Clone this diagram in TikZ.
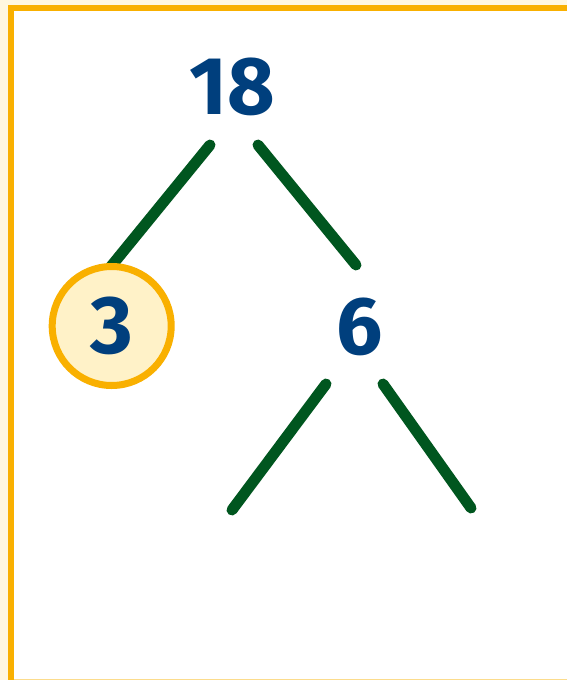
\documentclass[tikz,border=0pt]{standalone}
\usepackage{fontspec}
\setmainfont{Fira Sans}
\usetikzlibrary{backgrounds}
\definecolor{numblue}{HTML}{003F7D}
\definecolor{branchgreen}{HTML}{00561F}
\definecolor{frameorange}{HTML}{F9B000}
\definecolor{cream}{HTML}{FFF2C8}
\definecolor{paper}{HTML}{FFF7DF}
\tikzset{
	num/.style={inner sep=0pt, text=numblue, font=\fontsize{82}{90}\selectfont\bfseries},
	marked/.style={circle, draw=frameorange, line width=7pt, fill=cream, minimum size=119pt},
	branch/.style={draw=branchgreen, line width=11pt, line cap=round},
}
\begin{document}
\begin{tikzpicture}[x=1pt, y=-1pt]
	\useasboundingbox (0,0) rectangle (567,680);
	\node[num] (n18) at (232,87) {18};
	\node[num, marked] (n3) at (111.7,326) {3};
	\node[num] (n6) at (360,327) {6};
	\coordinate (leafL) at (232,510);
	\coordinate (leafR) at (471,508);
	\begin{pgfonlayer}{background}
		\fill[paper] (0,0) rectangle (567,680);
		\fill[white] (10.9,8) rectangle (567,680);
		\draw[frameorange!45, line width=1pt] (13,679.5) -- (567,679.5);
		\draw[frameorange, line width=6pt] (10.9,680) -- (10.9,8) -- (567,8);
		\draw[branch] ([shift={(-22,58)}]n18.center) -- ([shift={(-2,-58)}]n3.center);
		\draw[branch] ([shift={(26,58)}]n18.center) -- ([shift={(-4,-62)}]n6.center);
		\draw[branch] ([shift={(-34,57)}]n6.center) -- (leafL);
		\draw[branch] ([shift={(23,57)}]n6.center) -- (leafR);
	\end{pgfonlayer}
\end{tikzpicture}
\end{document}
